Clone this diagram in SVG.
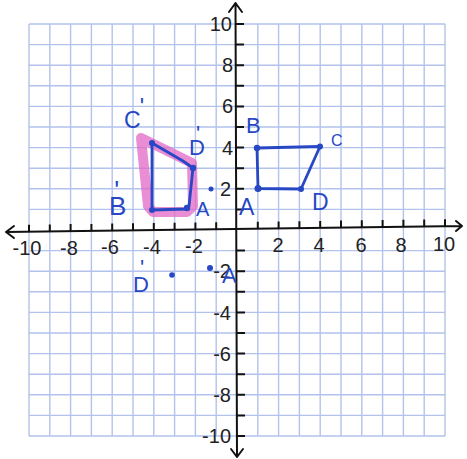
<svg xmlns="http://www.w3.org/2000/svg" width="467" height="459" viewBox="0 0 467 459">
<style>
.g{stroke:#b3c2ec;stroke-width:1.4;fill:none}
.ax{stroke:#111;stroke-width:2;fill:none;stroke-linecap:round;stroke-linejoin:round}
.tk{stroke:#111;stroke-width:2}
.num{font-family:"Liberation Sans",Arial,sans-serif;font-size:20px;fill:#222}
.hw{font-family:"Liberation Sans",Arial,sans-serif;fill:#2747c4}
.ln{stroke:#2747c4;stroke-width:2.8;fill:none;stroke-linejoin:round;stroke-linecap:round}
.dot{fill:#2747c4}
</style>
<rect width="467" height="459" fill="#fff"/>
<g id="grid">
<path class="g" d="M29,24V436M49.8,24V436M70.6,24V436M91.4,24V436M112.2,24V436M133,24V436M153.8,24V436M174.6,24V436M195.4,24V436M216.2,24V436M257.8,24V436M278.6,24V436M299.4,24V436M320.2,24V436M341,24V436M361.8,24V436M382.6,24V436M403.4,24V436M424.2,24V436M445,24V436"/>
<path class="g" d="M29,24H445M29,44.6H445M29,65.2H445M29,85.8H445M29,106.4H445M29,127H445M29,147.6H445M29,168.2H445M29,188.8H445M29,209.4H445M29,250.6H445M29,271.2H445M29,291.8H445M29,312.4H445M29,333H445M29,353.6H445M29,374.2H445M29,394.8H445M29,415.4H445M29,436H445"/>
</g>
<g id="axes">
<path class="ax" d="M6,232L462,226M14,226L6,232L14,238M456,221L462,226L456,231"/>
<path class="ax" d="M235.5,3L237,457M229,12L235.5,3L242,12M231,449L237,457L243,449"/>
<path class="tk" d="M29,231.7v-7M49.8,231.4v-7M70.6,231.1v-7M91.4,230.9v-7M112.2,230.6v-7M133,230.3v-7M153.8,230.1v-7M174.6,229.8v-7M195.4,229.5v-7M216.2,229.2v-7M257.8,228.7v-7M278.6,228.4v-7M299.4,228.2v-7M320.2,227.9v-7M341,227.6v-7M361.8,227.3v-7M382.6,227.1v-7M403.4,226.8v-7M424.2,226.5v-7M445,226.2v-7"/>
<path class="tk" d="M236,24h8M236,44.6h8M236,65.2h8M236,85.8h8M236,106.4h8M236,127h8M236,147.6h8M236,168.2h8M236,188.8h8M236,209.4h8M237,250.6h8M237,271.2h8M237,291.8h8M237,312.4h8M237,333h8M237,353.6h8M237,374.2h8M237,394.8h8M237,415.4h8M237,436h8"/>
</g>
<g id="axis-labels" class="num">
<g text-anchor="middle">
<text x="27" y="255">-10</text>
<text x="69" y="255">-8</text>
<text x="110" y="254">-6</text>
<text x="152" y="254">-4</text>
<text x="194" y="253">-2</text>
<text x="278" y="252">2</text>
<text x="319" y="252">4</text>
<text x="361" y="252">6</text>
<text x="401" y="252">8</text>
<text x="444" y="251">10</text>
</g>
<g text-anchor="end">
<text x="232" y="31">10</text>
<text x="233" y="72">8</text>
<text x="233" y="113">6</text>
<text x="233" y="155">4</text>
<text x="231" y="196">2</text>
<text x="231" y="278">-2</text>
<text x="231" y="320">-4</text>
<text x="231" y="361">-6</text>
<text x="231" y="402">-8</text>
<text x="231" y="443">-10</text>
</g>
</g>
<g id="quad-ABCD">
<path class="ln" d="M257,148L320,146.5L301,189L258,188.5Z"/>
<circle class="dot" cx="257" cy="148" r="3.2"/>
<circle class="dot" cx="320" cy="146.5" r="3"/>
<circle class="dot" cx="301" cy="189" r="3"/>
<circle class="dot" cx="258" cy="188.5" r="3.5"/>
<text class="hw" x="246" y="133" font-size="22">B</text>
<text class="hw" x="331" y="146" font-size="16">C</text>
<text class="hw" x="239" y="215" font-size="23">A</text>
<text class="hw" x="312" y="210" font-size="23">D</text>
</g>
<g id="quad-image">
<path d="M141,138L192,163L193,206L187,212L153,212L148,206Z" fill="none" stroke="#e168c6" stroke-opacity="0.75" stroke-width="10" stroke-linejoin="round"/>
<path class="ln" d="M152,143L183,161L193,168L189,206L186,209L152,210Z"/>
<circle class="dot" cx="152" cy="143" r="3"/>
<circle class="dot" cx="193" cy="168" r="3.2"/>
<circle class="dot" cx="187" cy="208" r="3.2"/>
<circle class="dot" cx="152" cy="210" r="3"/>
<text class="hw" x="124" y="128" font-size="23">C<tspan dx="-1" dy="-13">'</tspan></text>
<text class="hw" x="189" y="155" font-size="22">D<tspan dx="-9" dy="-14">'</tspan></text>
<text class="hw" x="109" y="215" font-size="26">B<tspan dx="-12" dy="-16">'</tspan></text>
<text class="hw" x="196" y="216" font-size="20">A</text>
</g>
<g id="stray-points">
<circle class="dot" cx="211" cy="189" r="2.5"/>
<circle class="dot" cx="172" cy="275" r="2.8"/>
<circle class="dot" cx="210" cy="268" r="3"/>
<text class="hw" x="133" y="292" font-size="22">D<tspan dx="-9" dy="-17">'</tspan></text>
<text class="hw" x="222" y="283" font-size="22">A</text>
</g>
</svg>
